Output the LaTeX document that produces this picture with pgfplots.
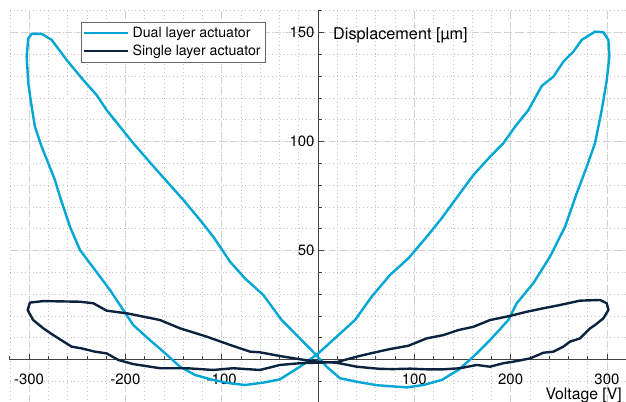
\documentclass[border=0pt]{standalone}
\usepackage{fontspec}
\setmainfont{TeX Gyre Heros}
\usepackage{pgfplots}
\pgfplotsset{compat=1.18}
\definecolor{dualc}{RGB}{0,166,214}
\definecolor{singlec}{RGB}{12,35,64}
\begin{document}
\begin{tikzpicture}[x=1bp,y=1bp]
\path[use as bounding box] (0,0) rectangle (626,401);
\begin{axis}[
  at={(9.8bp,-2.1bp)}, anchor=south west,
  scale only axis, width=616.4bp, height=392.4bp,
  xmin=-320, xmax=320, ymin=-20, ymax=160,
  axis lines=middle,
  axis line style={black!75, line width=0.8bp, -},
  xtick={-300,-200,-100,0,100,200,300},
  xticklabels={-300,-200,-100,,100,200,300},
  ytick={0,50,100,150},
  yticklabels={,50,100,150},
  minor xtick={-320,-300,...,320},
  minor ytick={-20,-10,...,160},
  grid=both,
  major grid style={gray!35, line width=0.6bp, dash pattern=on 7bp off 4bp},
  minor grid style={gray!45, line width=0.6bp, dash pattern=on 0.8bp off 3bp},
  tick align=inside,
  major tick length=6bp, minor tick length=3.5bp,
  tick style={black!75, line width=0.7bp},
  xticklabel style={font=\fontsize{15}{18}\selectfont, yshift=-10.5bp},
  yticklabel style={font=\fontsize{15}{18}\selectfont},
  every axis x label/.style={at={(axis description cs:0.993,0.0104)}, anchor=base east, inner sep=0pt, font=\fontsize{15.8}{18}\selectfont},
  every axis y label/.style={at={(axis description cs:0.5243,0.9271)}, anchor=base west, inner sep=0pt, font=\fontsize{16.3}{19}\selectfont},
  xlabel={Voltage [V]},
  ylabel={Displacement [µm]},
  legend style={at={(axis description cs:0.1155,0.9712)}, anchor=north west, draw=black!60, fill=white,
    font=\fontsize{14.2}{17}\selectfont, row sep=0pt, inner sep=2bp, nodes={inner sep=3bp}},
  legend cell align=left,
  legend image code/.code={\draw[#1] (0bp,0bp) -- (44bp,0bp);},
  clip=false,
]
\addplot[color=dualc, line width=2.4bp, line join=round] coordinates {
(0.3,2.8) (19.4,10.5) (38.4,18.1) (55.7,28.8) (74.8,38.8) (93.8,46.4) (112.9,56.3) (128.4,64.8) (142.3,73.2) (161.3,84.6) (178.6,93.0) (192.4,99.2) (204.6,106.8) (218.4,114.4) (232.3,125.5) (244.3,129.7) (254.7,136.6) (265.1,141.2) (273.8,146.6) (287.6,150.4) (296.3,150.1) (301.5,146.6) (302.5,138.9) (299.8,128.2) (294.6,114.4) (287.6,99.2) (279.0,88.4) (268.6,76.2) (256.5,60.9) (240.9,47.2) (223.6,35.0) (206.3,25.8) (197.6,18.1) (178.6,8.9) (161.3,1.3) (145.7,-4.8) (128.4,-9.4) (109.4,-11.7) (92.1,-12.8) (61.0,-11.8) (40.2,-10.2) (22.8,-8.6) (9.0,-3.3) (-5,3.5) (-37.7,18.1) (-56.8,29.6) (-75.8,37.2) (-91.4,44.9) (-108.7,56.3) (-122.5,64.0) (-139.8,73.2) (-167.5,86.9) (-191.8,99.2) (-205.6,106.8) (-219.4,114.4) (-229.8,121.3) (-243.7,128.2) (-261.0,137.4) (-266.2,140.5) (-276.5,146.6) (-286.9,149.4) (-297.3,149.4) (-300.8,147.3) (-302.5,138.9) (-300.8,126.7) (-297.3,116.0) (-293.9,106.8) (-286.9,97.6) (-280.0,90.0) (-273.1,82.3) (-267.9,74.7) (-257.5,60.9) (-247.1,50.2) (-231.6,41.1) (-216.0,31.9) (-202.2,22.7) (-191.8,15.8) (-174.5,8.9) (-160.6,3.6) (-143.3,-3.3) (-127.7,-7.1) (-108.7,-9.4) (-91.4,-10.9) (-75.8,-11.7) (-56.8,-10.6) (-39.5,-9.1) (-18.7,-3.3) (0.3,2.8)
};
\addlegendentry{Dual layer actuator}
\addplot[color=singlec, line width=2.4bp, line join=round] coordinates {
(-18.7,0.1) (0.3,-1.0) (19.4,-1.5) (40.2,-3.3) (64.4,-4.3) (78.2,-4.4) (95.5,-4.2) (112.9,-4.5) (130.1,-4.5) (147.5,-4.0) (164.8,-2.5) (178.6,-3.3) (192.4,-1.7) (202.8,-1.0) (220.1,0.5) (234.0,3.1) (244.3,3.6) (254.7,5.9) (261.7,8.2) (272.1,9.7) (282.5,14.3) (287.6,15.8) (296.3,18.9) (301.5,22.7) (299.8,25.8) (292.8,27.3) (272.1,27.0) (251.3,25.0) (234.0,23.5) (216.7,21.9) (199.4,20.0) (178.6,18.1) (161.3,15.0) (145.7,13.5) (130.1,11.2) (112.9,9.7) (93.8,6.3) (74.8,4.8) (57.4,3.1) (40.2,1.3) (19.4,-1.2) (-18.7,-1.7) (-39.5,-2.5) (-60.2,-4.8) (-88.0,-4.0) (-108.7,-4.8) (-136.4,-4.0) (-164.0,-4.0) (-191.8,-2.1) (-207.4,-0.2) (-219.4,2.8) (-231.6,3.6) (-245.4,5.1) (-255.8,5.9) (-274.9,11.2) (-285.2,14.3) (-295.7,18.1) (-301.5,22.7) (-299.1,26.1) (-285.2,26.8) (-247.1,26.5) (-233.3,25.8) (-219.4,22.4) (-198.6,21.2) (-164.0,18.1) (-143.3,14.3) (-115.6,10.5) (-91.4,6.7) (-70.6,3.6) (-60.2,3.3) (-39.5,1.6) (-18.7,0.1)
};
\addlegendentry{Single layer actuator}
\end{axis}
\end{tikzpicture}
\end{document}
